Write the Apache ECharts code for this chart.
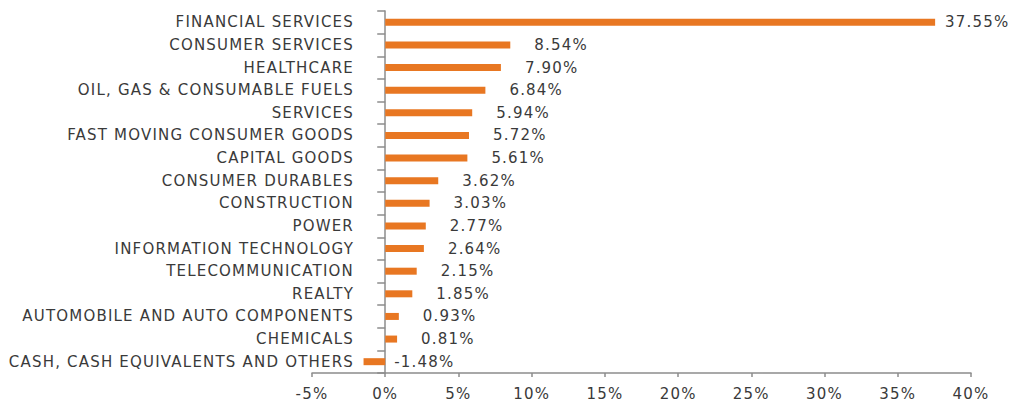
<!DOCTYPE html>
<html>
<head>
<meta charset="utf-8">
<script src="https://cdn.jsdelivr.net/npm/echarts@6/dist/echarts.min.js"></script>
<style>html,body{margin:0;padding:0;background:#fff;}#c{width:1017px;height:403px;}#c text{letter-spacing:1.2px;}</style>
</head>
<body>
<div id="c"></div>
<script>
const categories = [
  "FINANCIAL SERVICES",
  "CONSUMER SERVICES",
  "HEALTHCARE",
  "OIL, GAS & CONSUMABLE FUELS",
  "SERVICES",
  "FAST MOVING CONSUMER GOODS",
  "CAPITAL GOODS",
  "CONSUMER DURABLES",
  "CONSTRUCTION",
  "POWER",
  "INFORMATION TECHNOLOGY",
  "TELECOMMUNICATION",
  "REALTY",
  "AUTOMOBILE AND AUTO COMPONENTS",
  "CHEMICALS",
  "CASH, CASH EQUIVALENTS AND OTHERS"
];
const values = [37.55, 8.54, 7.90, 6.84, 5.94, 5.72, 5.61, 3.62, 3.03, 2.77, 2.64, 2.15, 1.85, 0.93, 0.81, -1.48];
const xTicks = { min: -5, max: 40, interval: 5 };

const FONT = "DejaVu Sans";
const TXT = "#3a3a3a";
const AX = "#8c8c8c";
const data = values.map((v, i) => ({
  value: v,
  label: { distance: i === 0 ? 10 : (v < 0 ? 9 : 24) }
}));
const chart = echarts.init(document.getElementById('c'), null, { renderer: 'svg' });
chart.setOption({
  animation: false,
  grid: { left: 312, right: 46, top: 11, bottom: 30, containLabel: false, outerBoundsMode: 'none' },
  xAxis: {
    type: 'value', min: xTicks.min, max: xTicks.max, interval: xTicks.interval,
    splitLine: { show: false },
    axisLine: { show: true, lineStyle: { color: AX, width: 1.5 } },
    axisTick: { show: true, length: 4, lineStyle: { color: AX, width: 1.5 } },
    axisLabel: { formatter: '{value}%', color: TXT, fontFamily: FONT, fontSize: 15, margin: 13 }
  },
  yAxis: {
    type: 'category', data: categories, inverse: true,
    axisLine: { show: true, onZero: true, lineStyle: { color: AX, width: 1.5 } },
    axisTick: { show: true, length: 8, alignWithLabel: false, lineStyle: { color: AX, width: 1.5 } },
    axisLabel: { color: TXT, fontFamily: FONT, fontSize: 15, margin: -42 }
  },
  series: [{
    type: 'bar', data: data, barWidth: 7,
    itemStyle: { color: '#E87722' },
    label: {
      show: true, position: 'right', color: TXT, fontFamily: FONT, fontSize: 15,
      formatter: p => p.value.toFixed(2) + '%'
    }
  }]
});
</script>
</body>
</html>
